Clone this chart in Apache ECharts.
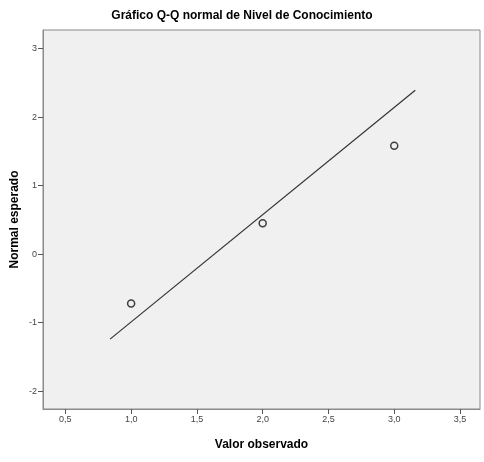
<!DOCTYPE html>
<html><head><meta charset="utf-8">
<script src="https://cdn.jsdelivr.net/npm/echarts@6/dist/echarts.min.js"></script>
<style>html,body{margin:0;padding:0;background:#fff}#c{width:484px;height:462px}</style>
</head><body><div id="c"></div>
<script>
const observed = [1, 2, 3];
const expected = [-0.72, 0.45, 1.58];
const lineX = [0.84, 3.16];
const lineY = [-1.24, 2.39];
const xTicks = [0.5, 1.0, 1.5, 2.0, 2.5, 3.0, 3.5];
const yTicks = [-2, -1, 0, 1, 2, 3];

const fmt = v => v.toFixed(1).replace('.', ',');
const chart = echarts.init(document.getElementById('c'));
chart.setOption({
  animation: false,
  title: {
    text: 'Gráfico Q-Q normal de Nivel de Conocimiento',
    left: 'center', top: 5,
    textStyle: {fontFamily: 'Liberation Sans', fontSize: 12, fontWeight: 'bold', color: '#000'}
  },
  grid: {left: 43, top: 30, right: 4, bottom: 53, outerBoundsMode: 'none', containLabel: false, show: true, backgroundColor: '#f0f0f0', borderColor: '#8a8a8a', borderWidth: 1},
  xAxis: {
    type: 'value', min: 0.33, max: 3.652,
    name: 'Valor observado', nameLocation: 'middle', nameGap: 30, nameMoveOverlap: false,
    nameTextStyle: {fontFamily: 'Liberation Sans', fontSize: 12, fontWeight: 'bold', color: '#000'},
    axisLine: {show: true, onZero: false, lineStyle: {color: '#8a8a8a'}},
    axisTick: {show: true, length: 5, customValues: xTicks, lineStyle: {color: '#555'}},
    splitLine: {show: false},
    axisLabel: {customValues: xTicks, formatter: v => fmt(v), fontFamily: 'Liberation Sans', fontSize: 9, color: '#444', margin: 6}
  },
  yAxis: {
    type: 'value', min: -2.26, max: 3.27,
    name: 'Normal esperado', nameLocation: 'middle', nameGap: 22, nameRotate: 90, nameMoveOverlap: false,
    nameTextStyle: {fontFamily: 'Liberation Sans', fontSize: 12, fontWeight: 'bold', color: '#000'},
    axisLine: {show: true, onZero: false, lineStyle: {color: '#8a8a8a'}},
    axisTick: {show: true, length: 5, customValues: yTicks, lineStyle: {color: '#555'}},
    splitLine: {show: false},
    axisLabel: {customValues: yTicks, formatter: v => String(v), fontFamily: 'Liberation Sans', fontSize: 9, color: '#444', margin: 6}
  },
  series: [
    {
      type: 'line', data: lineX.map((x, i) => [x, lineY[i]]),
      symbol: 'none', lineStyle: {color: '#333', width: 1.2}, silent: true
    },
    {
      type: 'scatter', data: observed.map((x, i) => [x, expected[i]]),
      symbol: 'circle', symbolSize: 7,
      itemStyle: {color: 'rgba(0,0,0,0)', borderColor: '#111', borderWidth: 1.5}
    }
  ]
});
</script></body></html>
